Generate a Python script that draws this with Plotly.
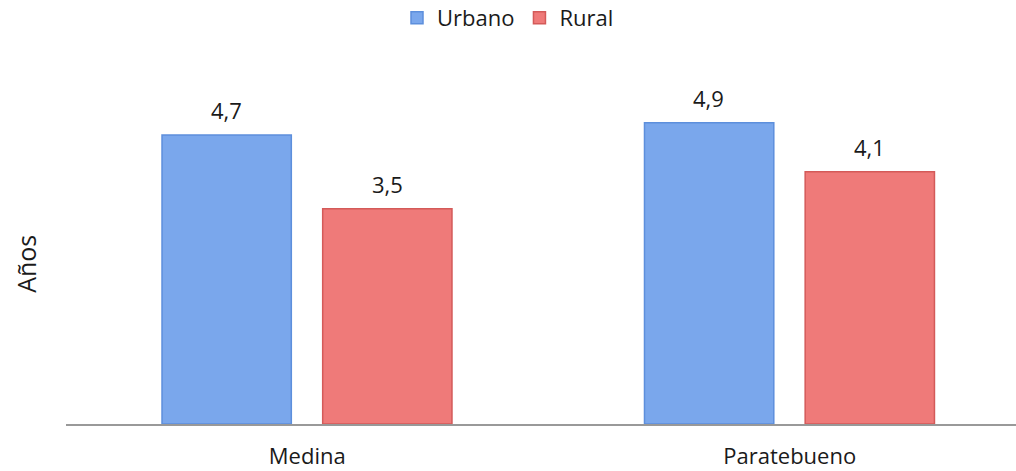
import plotly.graph_objects as go

categories = ["Medina", "Paratebueno"]
urbano = [4.7, 4.9]
rural = [3.5, 4.1]
labels_urbano = ["4,7", "4,9"]
labels_rural = ["3,5", "4,1"]

FONT = "Open Sans, Lato, sans-serif"
TXT = "#1a1a1a"

fig = go.Figure()
fig.add_bar(
    name="Urbano",
    x=categories,
    y=urbano,
    width=0.268,
    offset=-0.301,
    marker=dict(color="#7aa7ec", line=dict(color="#5d8fdc", width=1.5)),
)
fig.add_bar(
    name="Rural",
    x=categories,
    y=rural,
    width=0.268,
    offset=0.032,
    marker=dict(color="#ef7a79", line=dict(color="#d45a59", width=1.5)),
)

# value labels above the bars
for vals, labs, dx in [(urbano, labels_urbano, -81), (rural, labels_rural, 80)]:
    for cat, v, lab in zip(categories, vals, labs):
        fig.add_annotation(
            x=cat, y=v, text=lab, showarrow=False,
            xshift=dx, yshift=25, yanchor="middle",
            font=dict(size=22, color=TXT, family=FONT),
        )

# y axis title, placed by hand so it sits a bit below the middle like the original
fig.add_annotation(
    x=0, y=0.434, xref="paper", yref="paper", text="Años", textangle=-90,
    showarrow=False, xanchor="center", yanchor="middle", xshift=-40,
    font=dict(size=25, color=TXT, family=FONT),
)

fig.update_layout(
    width=1016,
    height=471,
    margin=dict(l=66, r=0, t=55, b=47),
    paper_bgcolor="white",
    plot_bgcolor="white",
    barmode="group",
    showlegend=True,
    font=dict(family=FONT, size=22, color=TXT),
    legend=dict(
        orientation="h",
        xref="container",
        yref="container",
        x=0.5,
        xanchor="center",
        y=0.962,
        yanchor="middle",
        font=dict(size=22),
        itemwidth=30,
    ),
)
fig.update_xaxes(
    range=[-0.5, 1.469],
    showline=True,
    linecolor="#999999",
    linewidth=2,
    ticks="",
    showgrid=False,
    automargin=False,
    ticklabelstandoff=12,
    tickfont=dict(size=22),
)
fig.update_yaxes(
    range=[0, 6],
    showgrid=False,
    showticklabels=False,
    zeroline=False,
    automargin=False,
)

# drop the default 8px page margin so the figure fills the window exactly
fig.write_html(
    "out.html",
    config={"displayModeBar": False},
    post_script="document.body.style.margin = '0';",
)
